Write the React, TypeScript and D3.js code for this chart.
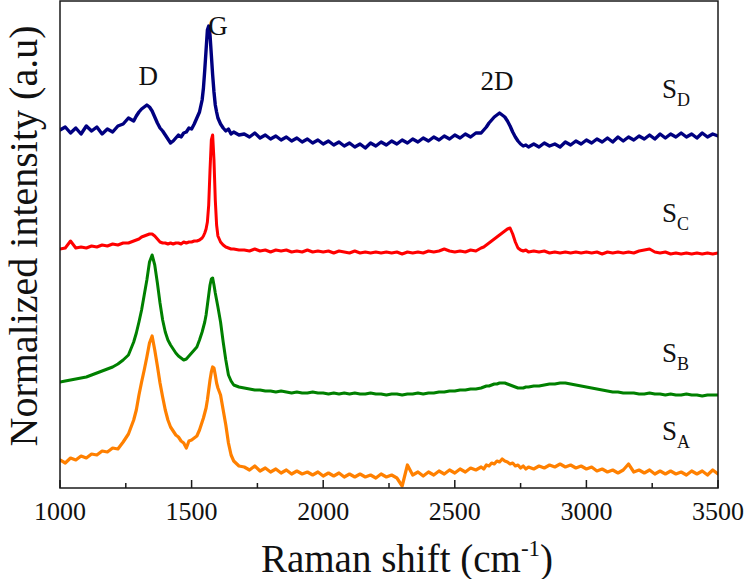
import React from "react";
import * as d3 from "d3";

// Raman shift sample positions (cm^-1)
const wavenumbers: number[] = [
  1000, 1020, 1040, 1060, 1080, 1100, 1120, 1140, 1160, 1180, 1200, 1220, 1240, 1260, 1280,
  1290, 1300, 1310, 1320, 1330, 1340, 1350, 1360, 1370, 1380, 1390, 1400, 1410, 1420, 1430,
  1440, 1450, 1460, 1470, 1480, 1490, 1500, 1510, 1520, 1530, 1540,
  1545, 1550, 1555, 1560, 1565, 1570, 1575, 1580, 1585, 1590, 1595, 1600,
  1610, 1620, 1630, 1640, 1650, 1660, 1680,
  1700, 1720, 1740, 1760, 1780, 1800, 1820, 1840, 1860, 1880, 1900, 1920, 1940, 1960, 1980,
  2000, 2020, 2040, 2060, 2080, 2100, 2120, 2140, 2160, 2180,
  2200, 2220, 2240, 2260, 2280, 2300, 2320, 2340, 2360, 2380,
  2400, 2420, 2440, 2460, 2480, 2500, 2520, 2540, 2560, 2580,
  2600, 2610, 2620, 2630, 2640, 2650, 2660, 2670, 2680, 2690, 2700, 2710, 2720, 2730, 2740,
  2750, 2760, 2770, 2780,
  2800, 2820, 2840, 2860, 2880, 2900, 2920, 2940, 2960, 2980,
  3000, 3020, 3040, 3060, 3080, 3100, 3120, 3140, 3160, 3180,
  3200, 3220, 3240, 3260, 3280, 3300, 3320, 3340, 3360, 3380,
  3400, 3420, 3440, 3460, 3480, 3500,
];

// Normalized intensity (offset, arbitrary units)
const sD: number[] = [
  358, 361, 355, 360, 354, 362, 357, 361, 354, 359, 356, 362, 364, 370, 367,
  372, 376, 379, 381, 383, 381, 377, 371, 365, 360, 357, 353, 349, 345, 347, 350, 353, 351, 355, 356, 360, 359, 364, 370, 376, 388,
  400, 418, 438, 458, 462, 453, 433, 413, 396, 383, 376, 370,
  364, 360, 357, 359, 354, 356, 353,
  354, 351, 355, 350, 353, 349, 352, 348, 351, 347, 350, 346, 349, 345, 348,
  344, 347, 343, 346, 342, 345, 341, 344, 340, 345,
  342, 346, 343, 347, 344, 348, 345, 349, 346, 350,
  347, 351, 348, 352, 349, 353, 350, 354, 351, 355,
  355, 358, 361, 365, 368, 371, 373, 375, 373, 371, 367, 362, 356, 351, 347, 344, 342, 343, 341,
  344, 341, 345, 342, 344, 341, 346, 343, 347, 344,
  348, 345, 349, 346, 350, 346, 351, 347, 351, 348,
  352, 349, 353, 349, 354, 350, 354, 351, 355, 351,
  354, 350, 355, 351, 354, 352,
];

const sC: number[] = [
  239, 240, 247, 240, 241, 240, 242, 241, 243, 242, 244, 243, 245, 245, 247,
  248, 249, 251, 252, 253, 254, 254, 252, 249, 246, 245, 245, 244, 245, 244, 245, 245, 244, 246, 245, 246, 246, 247, 247, 248, 250,
  252, 255, 259, 266, 283, 318, 348, 353, 328, 288, 263, 252,
  246, 243, 241, 240, 239, 239, 238,
  238, 237, 239, 237, 238, 236, 238, 237, 238, 236, 237, 236, 238, 236, 237,
  236, 237, 235, 237, 236, 235, 237, 235, 236, 235,
  236, 235, 236, 235, 236, 234, 236, 235, 236, 235,
  237, 236, 237, 239, 237, 236, 237, 236, 238, 237,
  240, 241, 243, 245, 247, 249, 251, 253, 255, 257, 259, 260, 254, 246, 240, 238, 237, 238, 236,
  237, 236, 237, 235, 236, 235, 236, 235, 236, 235,
  236, 235, 236, 234, 236, 235, 236, 235, 236, 235,
  237, 238, 239, 236, 235, 236, 234, 235, 234, 235,
  234, 235, 234, 235, 234, 235,
];

const sB: number[] = [
  106, 107, 108, 109, 110, 111, 113, 115, 117, 119, 121, 124, 128, 133, 146,
  155, 166, 178, 193, 208, 226, 233, 223, 205, 185, 168, 156, 148, 143, 139, 135, 132, 130, 128, 129, 132, 135, 138, 141, 148, 156,
  161, 166, 173, 183, 193, 203, 209, 210, 203, 195, 188, 181,
  166, 146, 128, 113, 107, 103, 101,
  100, 99, 98, 98, 97, 97, 96, 97, 96, 95, 96, 95, 95, 96, 95,
  95, 94, 95, 94, 95, 94, 95, 94, 94, 95,
  94, 94, 93, 94, 94, 93, 94, 94, 95, 94,
  95, 95, 96, 96, 97, 97, 98, 98, 99, 99,
  100, 101, 102, 102, 103, 104, 104, 105, 105, 105, 104, 103, 102, 101, 100, 100, 100, 101, 101,
  102, 102, 103, 104, 104, 105, 105, 104, 103, 102,
  101, 100, 99, 98, 97, 96, 96, 95, 95, 95,
  94, 94, 95, 94, 94, 93, 94, 93, 93, 94,
  93, 93, 92, 93, 93, 93,
];

const sA: number[] = [
  28, 25, 30, 28, 32, 30, 34, 33, 37, 36, 40, 39, 46, 54, 68,
  78, 93, 106, 118, 131, 145, 152, 138, 122, 105, 91, 78, 68, 61, 57, 53, 51, 47, 45, 40, 47, 48, 50, 52, 58, 66,
  70, 75, 80, 88, 98, 108, 116, 121, 120, 113, 105, 100,
  93, 78, 63, 45, 33, 27, 22,
  21, 18, 22, 17, 20, 16, 19, 15, 18, 14, 17, 14, 16, 13, 16,
  12, 15, 12, 15, 11, 14, 11, 14, 11, 13,
  10, 14, 11, 13, 10, 2, 23, 13, 16, 12,
  16, 13, 17, 14, 18, 15, 19, 16, 20, 18,
  21, 19, 23, 22, 25, 24, 27, 26, 29, 27, 26, 24, 25, 22, 23, 20, 22, 19, 21,
  19, 22, 20, 23, 21, 24, 21, 23, 20, 22,
  19, 21, 17, 19, 16, 18, 15, 18, 24, 16,
  18, 15, 18, 14, 17, 14, 17, 14, 16, 13,
  17, 14, 17, 13, 18, 14,
];

const seriesNames = ["A", "B", "C", "D"];
const seriesValues = [sA, sB, sC, sD];
const seriesColors = ["#ff8000", "#008000", "#ff0000", "#000080"];
const seriesWidths = [3.2, 3, 3, 3.4];
// label anchor intensity (baseline) for each series tag
const seriesLabelLevels = [48, 126, 266, 390];

const majorTicks = [1000, 1500, 2000, 2500, 3000, 3500];
const minorTicks = [1250, 1750, 2250, 2750, 3250];

const peakNames = ["D", "G", "2D"];
const peakPositions = [1335, 1600, 2660];
const peakLabelLevels = [403, 453, 398];

const W = 750;
const H = 579;
const left = 60;
const right = 718;
const top = 1;
const bottom = 488;
const FONT = '"Liberation Serif", "DejaVu Serif", serif';
const textStyle: React.CSSProperties = { fontFamily: FONT };

export default function App() {
  React.useEffect(() => {
    document.body.style.margin = "0";
  }, []);

  const x = d3.scaleLinear().domain([1000, 3500]).range([left, right]);
  const y = d3.scaleLinear().domain([0, 487]).range([bottom, top]);

  const line = d3
    .line<number>()
    .x((_, i) => x(wavenumbers[i]))
    .y((d) => y(d));

  return (
    <svg width={W} height={H} style={{ display: "block", background: "#fff", fontFamily: FONT }}>
      <defs>
        <clipPath id="plotClip">
          <rect x={left} y={top} width={right - left} height={bottom - top} />
        </clipPath>
      </defs>
      <g clipPath="url(#plotClip)">
        {seriesValues.map((vals, k) => (
          <path
            key={k}
            d={line(vals.slice(0, wavenumbers.length)) || ""}
            fill="none"
            stroke={seriesColors[k]}
            strokeWidth={seriesWidths[k]}
            strokeLinejoin="round"
            strokeLinecap="round"
          />
        ))}
      </g>
      <rect
        x={left}
        y={top}
        width={right - left}
        height={bottom - top}
        fill="none"
        stroke="#1a1a1a"
        strokeWidth={1.5}
      />
      {majorTicks.map((t) => (
        <g key={"M" + t}>
          <line x1={x(t)} x2={x(t)} y1={bottom} y2={bottom - 8} stroke="#1a1a1a" strokeWidth={1.5} />
          <text x={x(t)} y={520} textAnchor="middle" fontSize={26} fill="#111" style={textStyle}>
            {t}
          </text>
        </g>
      ))}
      {minorTicks.map((t) => (
        <line key={"m" + t} x1={x(t)} x2={x(t)} y1={bottom} y2={bottom - 5} stroke="#1a1a1a" strokeWidth={1.5} />
      ))}
      {peakNames.map((p, i) => (
        <text
          key={p}
          x={x(peakPositions[i])}
          y={y(peakLabelLevels[i])}
          textAnchor="middle"
          fontSize={27}
          fill="#111"
          style={textStyle}
        >
          {p}
        </text>
      ))}
      {seriesNames.map((n, k) => (
        <text key={n} x={662} y={y(seriesLabelLevels[k])} fontSize={27} fill="#111" style={textStyle}>
          S
          <tspan fontSize={18} dy={8}>
            {n}
          </tspan>
        </text>
      ))}
      <text x={407} y={572} textAnchor="middle" fontSize={39} fill="#111" style={textStyle}>
        Raman shift (cm
        <tspan fontSize={23} dy={-16}>
          -1
        </tspan>
        <tspan dy={16}>)</tspan>
      </text>
      <text
        transform={`translate(37, 236) rotate(-90)`}
        textAnchor="middle"
        fontSize={40}
        fill="#111"
        style={textStyle}
      >
        Normalized intensity (a.u)
      </text>
    </svg>
  );
}
